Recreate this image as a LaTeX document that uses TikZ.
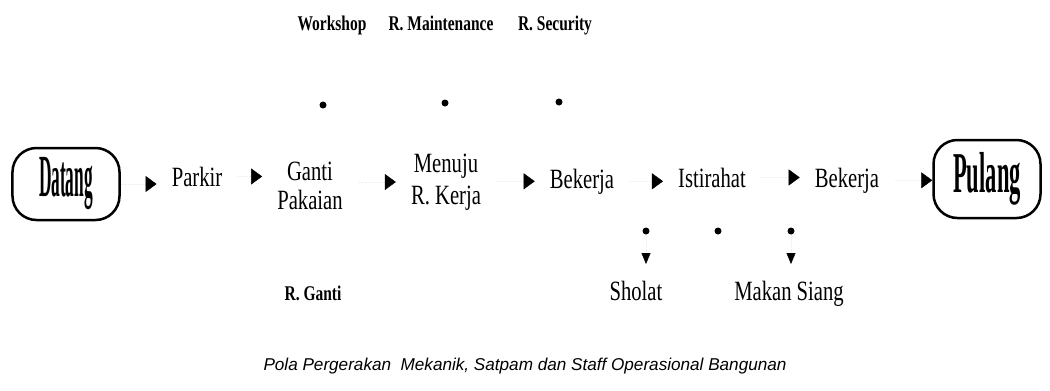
\documentclass[tikz,border=0pt]{standalone}
\usepackage{fontspec}
\setmainfont{Liberation Serif}
\newfontfamily\lblf[FakeStretch=0.74]{Liberation Serif}
\newfontfamily\toplf[FakeStretch=0.74]{Liberation Serif}
\newfontfamily\datf[FakeStretch=0.29]{Liberation Serif}
\newfontfamily\pulf[FakeStretch=0.39]{Liberation Serif}
\newfontfamily\capf{Liberation Sans}
\usetikzlibrary{arrows.meta}
\begin{document}
\begin{tikzpicture}[x=1bp,y=-1bp,
  term/.style={draw, line width=2.5bp, rounded corners=24bp, minimum width=107bp, inner sep=0pt},
  lbl/.style={inner xsep=15bp, inner ysep=1bp, align=center, font=\lblf\fontsize{28}{23}\selectfont},
  toplbl/.style={inner sep=2bp, font=\toplf\bfseries\fontsize{21}{21}\selectfont},
  dot/.style={circle, fill=black, inner sep=0pt, minimum size=7bp},
  conn/.style={draw=black!6, densely dotted, -{Triangle[color=black, length=11bp, width=16bp]}},
  vconn/.style={draw=black!6, densely dotted, -{Triangle[color=black, length=11bp, width=9bp]}},
  captext/.style={font=\capf\itshape\fontsize{17.2}{20}\selectfont}
]
\useasboundingbox (0,0) rectangle (1050,390);
\fill[white] (0,0) rectangle (1050,390);

% terminals
\node[term, minimum height=72bp, font=\datf\bfseries\fontsize{60}{60}\selectfont] (datang) at (66,184) {Datang};
\node[term, minimum height=78bp, font=\pulf\bfseries\fontsize{58}{58}\selectfont] (pulang) at (987,179) {Pulang};

% main row
\node[lbl, anchor=base] (parkir) at (197,186) {Parkir};
\node[lbl, font=\lblf\fontsize{28}{29}\selectfont] (ganti) at (310,186) {Ganti\\Pakaian};
\node[lbl, font=\lblf\fontsize{28}{32}\selectfont] (menuju) at (446,182) {Menuju\\R. Kerja};
\node[lbl, anchor=base] (bekerja) at (582,188) {Bekerja};
\node[lbl, anchor=base] (istirahat) at (712,187) {Istirahat};
\node[lbl, anchor=base] (bekerjab) at (847,187) {Bekerja};

\draw[conn] (datang.east) -- (datang.east -| parkir.west);
\draw[conn] (parkir.east) -- (parkir.east -| ganti.west);
\draw[conn] (menuju.west -| ganti.east) -- (menuju.west);
\draw[conn] (menuju.east |- bekerja.west) -- (bekerja.west);
\draw[conn] (bekerja.east) -- (bekerja.east -| istirahat.west);
\draw[conn] (istirahat.east) -- (istirahat.east -| bekerjab.west);
\draw[conn] (bekerjab.east) -- (bekerjab.east -| pulang.west);

% top labels and dots
\node[toplbl, anchor=base] (workshop) at (332,30) {Workshop};
\node[toplbl, anchor=base] (maint) at (441,30) {R. Maintenance};
\node[toplbl, anchor=base] (security) at (555,30) {R. Security};
\node[dot] (tw) at (323,105) {};
\node[dot] (tm) at (445,103) {};
\node[dot] (ts) at (559,102) {};

% bottom
\node[dot] (bs) at (646,231) {};
\node[dot] (bi) at (718,231) {};
\node[dot] (bm) at (791,231) {};
\coordinate (as) at (646,264);
\coordinate (am) at (791,264);
\draw[vconn] (bs) -- (as);
\draw[vconn] (bm) -- (am);
\node[toplbl, anchor=base] (rganti) at (313,300) {R. Ganti};
\node[lbl, anchor=base, inner xsep=2bp] (sholat) at (636,300) {Sholat};
\node[lbl, anchor=base, inner xsep=2bp] (makan) at (789,300) {Makan Siang};

% caption
\node[captext, anchor=base] (caption) at (525,370) {Pola Pergerakan\ \ Mekanik, Satpam dan Staff Operasional Bangunan};
\end{tikzpicture}
\end{document}
